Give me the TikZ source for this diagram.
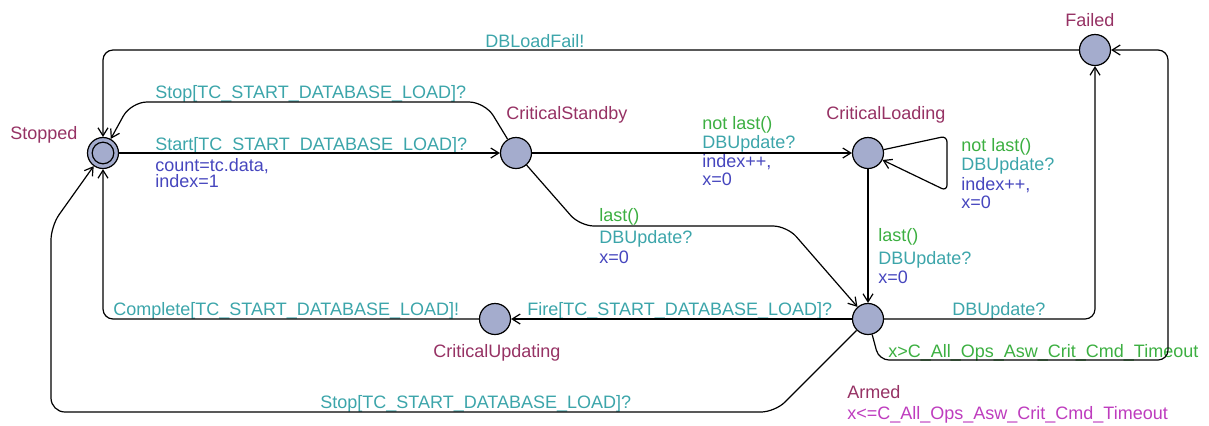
\documentclass[tikz,border=0pt]{standalone}
\usepackage{fontspec}
\setmainfont{Liberation Sans}
\usepackage{xcolor}
\usepackage{tikz}
\usetikzlibrary{arrows.meta}
\definecolor{locfill}{RGB}{164,172,205}
\definecolor{namecol}{RGB}{150,50,100}
\definecolor{synccol}{RGB}{60,165,170}
\definecolor{guardcol}{RGB}{60,175,65}
\definecolor{updcol}{RGB}{70,70,190}
\definecolor{invcol}{RGB}{190,60,190}
\tikzstyle{loc}=[draw, circle, fill=locfill, line width=.6pt, inner sep=0pt, minimum size=15.5pt]
\tikzstyle{init}=[path picture={\draw[line width=.6pt] (path picture bounding box.center) circle (5.4pt);}]
\tikzstyle{lab}=[anchor=base west, inner sep=0pt]
\tikzstyle{nm}=[lab, text=namecol]
\tikzstyle{sy}=[lab, text=synccol]
\tikzstyle{gd}=[lab, text=guardcol]
\tikzstyle{up}=[lab, text=updcol]
\tikzstyle{iv}=[lab, text=invcol]
\tikzstyle{edge}=[->, line width=.6pt, rounded corners=5pt]

\begin{document}
\begin{tikzpicture}[x=.5pt, y=-.5pt, font=\fontsize{9}{9}\selectfont,
  >={Straight Barb[length=4pt, width=5pt]}]
\useasboundingbox (0,0) rectangle (1209,425);
% locations
\node[loc, init] (stopped) at (103,153) {};
\foreach \n/\x/\y in {cstandby/516/153, cloading/868/153, failed/1095/50,
  armed/868/319, cupdating/495/319}
  \node[loc] (\n) at (\x,\y) {};
% names, invariant and edge labels
\foreach \s/\x/\y/\t [count=\i] in {
  nm/10/139/Stopped, nm/506/119/CriticalStandby, nm/826/119/CriticalLoading,
  nm/1065/26/Failed, nm/433/357/CriticalUpdating, nm/847/398/Armed,
  iv/847/419/{x<=C\_All\_Ops\_Asw\_Crit\_Cmd\_Timeout},
  sy/485/47/{DBLoadFail!},
  sy/155/98/{Stop[TC\_START\_DATABASE\_LOAD]?},
  sy/155/150/{Start[TC\_START\_DATABASE\_LOAD]?},
  up/155/171/{count=tc.data,}, up/155/187/{index=1},
  gd/702/129/{not last()}, sy/702/148/{DBUpdate?},
  up/702/167/{index++,}, up/702/185/{x=0},
  gd/961/151/{not last()}, sy/961/170/{DBUpdate?},
  up/961/190/{index++,}, up/961/208/{x=0},
  gd/599/221/{last()}, sy/599/243/{DBUpdate?}, up/599/263/{x=0},
  gd/878/241/{last()}, sy/878/264/{DBUpdate?}, up/878/283/{x=0},
  sy/952/315/{DBUpdate?},
  gd/888/357/{x>C\_All\_Ops\_Asw\_Crit\_Cmd\_Timeout},
  sy/527/315/{Fire[TC\_START\_DATABASE\_LOAD]?},
  sy/113/315/{Complete[TC\_START\_DATABASE\_LOAD]!},
  sy/320/408/{Stop[TC\_START\_DATABASE\_LOAD]?}}
  \node[\s] (t\i) at (\x,\y) {\t};
% edges
\draw[edge] (failed) -| (stopped);
\draw[edge, rounded corners=8pt] (cstandby) -- (485,102) -- (131,102) -- (stopped);
\draw[edge] (stopped) -- (cstandby);
\draw[edge] (cstandby) -- (cloading);
\draw[edge, rounded corners=3pt] (cloading) -- (947,136) -- (947,191) -- (cloading);
\draw[edge, rounded corners=7pt] (cstandby) -- (580,226) -- (787,226) -- (armed);
\draw[edge] (cloading) -- (armed);
\draw[edge] (armed) -| (failed);
\draw[edge] (armed) -- (879,360) -- (1168,360) -- (1168,50) -- (failed);
\draw[edge] (armed) -- (cupdating);
\draw[edge] (cupdating) -| (stopped);
\draw[edge, rounded corners=7pt] (armed) -- (775,412) -- (51,412) -- (51,226) -- (stopped);
\end{tikzpicture}
\end{document}
